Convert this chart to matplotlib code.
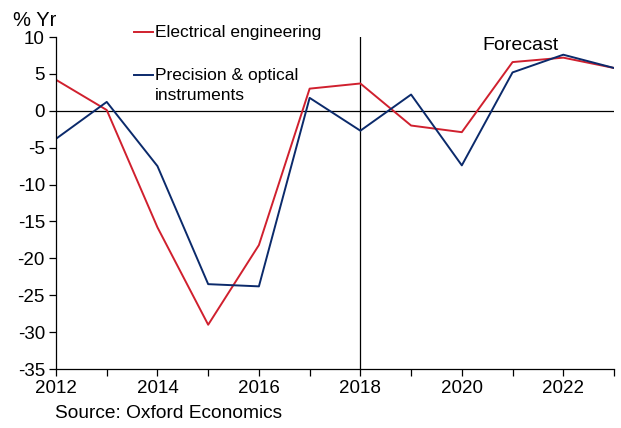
import matplotlib
matplotlib.use("Agg")
import matplotlib.pyplot as plt
from matplotlib.lines import Line2D

years = [2012, 2013, 2014, 2015, 2016, 2017, 2018, 2019, 2020, 2021, 2022, 2023]
electrical = [4.2, 0.1, -15.8, -29.0, -18.2, 3.0, 3.7, -2.0, -2.9, 6.6, 7.2, 5.8]
precision = [-3.8, 1.2, -7.5, -23.5, -23.8, 1.75, -2.7, 2.2, -7.4, 5.2, 7.6, 5.8]
xticks_major = [2012, 2014, 2016, 2018, 2020, 2022]
yticks = [10, 5, 0, -5, -10, -15, -20, -25, -30, -35]
series_labels = ['Electrical engineering', 'Precision & optical\ninstruments']

plt.rcParams['font.family'] = ['Liberation Sans', 'DejaVu Sans']
W, H = 621, 428
fig = plt.figure(figsize=(W/100, H/100), dpi=100)
ax = fig.add_axes([56/W, 1 - 369/H, (614-56)/W, (369-37)/H])

red = '#d0202e'
blue = '#0b2a6b'
ax.plot(years, electrical, color=red, lw=1.4)
ax.plot(years, precision, color=blue, lw=1.4)
ax.axhline(0, color='black', lw=0.9, zorder=1)
ax.axvline(2018, color='black', lw=0.9, zorder=1)

ax.set_xlim(2012, 2023)
ax.set_ylim(-35, 10)
ax.set_yticks(yticks)
ax.set_yticklabels([str(v) for v in yticks], fontsize=13.5)
ax.set_xticks(xticks_major)
ax.set_xticklabels([str(v) for v in xticks_major], fontsize=13.5)
ax.set_xticks(years, minor=True)
ax.tick_params(axis='both', which='both', direction='out', length=5, width=0.9, color='black')
ax.tick_params(axis='x', which='major', pad=3)
ax.tick_params(axis='y', which='major', pad=3)
ax.spines['top'].set_visible(False)
ax.spines['right'].set_visible(False)
ax.spines['left'].set_linewidth(0.9)
ax.spines['bottom'].set_linewidth(0.9)

ax.text(2021.15, 8.9, 'Forecast', fontsize=14, ha='center', va='center')

fig.text(13/W, 1 - 20/H, '% Yr', fontsize=14.5, ha='left', va='center')
fig.text(55/W, 1 - 414/H, 'Source: Oxford Economics', fontsize=13.8, ha='left', va='center')

# legend (manual placement)
for col, lab, ly, ty in [(red, series_labels[0], 32, 32), (blue, series_labels[1], 75, 85.5)]:
    fig.add_artist(Line2D([134/W, 153/W], [1 - ly/H, 1 - ly/H], color=col, lw=1.4,
                          transform=fig.transFigure))
    fig.text(155/W, 1 - ty/H, lab, fontsize=12.5, ha='left', va='center', linespacing=1.48)

fig.savefig('out.png', dpi=100)
